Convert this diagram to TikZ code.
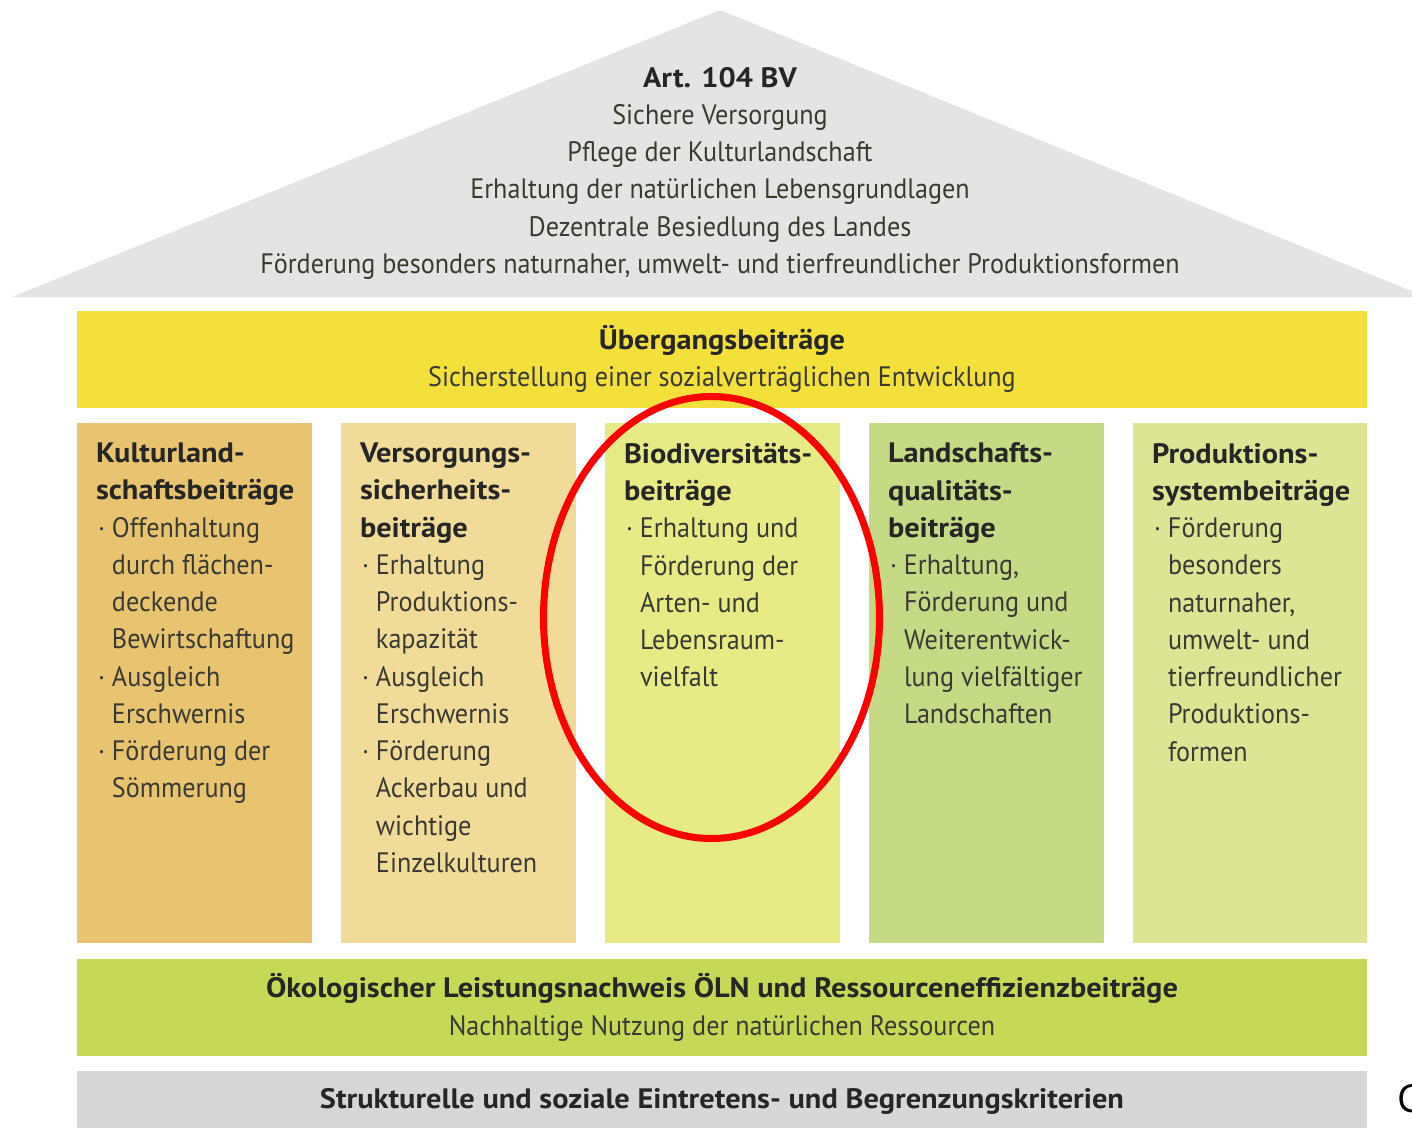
\documentclass[tikz,border=0pt]{standalone}
\usepackage{fontspec}
\setmainfont{PT Sans}[FakeStretch=0.93,BoldFeatures={FakeStretch=1.08}]
\newfontfamily\srcfont{Open Sans}
\usetikzlibrary{shapes.geometric}
\definecolor{roofgrey}{RGB}{228,228,228}
\definecolor{basegrey}{RGB}{215,215,215}
\definecolor{transyellow}{RGB}{243,224,58}
\definecolor{oelngreen}{RGB}{197,217,87}
\definecolor{pillarA}{RGB}{232,196,112}
\definecolor{pillarB}{RGB}{240,220,152}
\definecolor{pillarC}{RGB}{230,235,133}
\definecolor{pillarD}{RGB}{198,218,134}
\definecolor{pillarE}{RGB}{220,229,148}
\definecolor{bodytext}{RGB}{58,58,52}
\newcommand{\bul}{\makebox[9.1pt][l]{\hspace{1.2pt}·}}
\newcommand{\ind}{\hspace*{9.1pt}}
\newcommand{\hd}[1]{\textbf{\color{black!85}#1}}
\begin{document}
\begin{tikzpicture}[x=0.2mm,y=-0.2mm,inner sep=0pt,outer sep=0pt,
 txt/.style={font=\fontsize{16}{21.2}\selectfont,text=bodytext},
 band/.style={txt,minimum width=258mm,minimum height=19.4mm,align=center},
 coltext/.style={txt,anchor=north west,align=left,execute at begin node=\strut}]
\useasboundingbox (0,0) rectangle (1412,1127);

% roof
\fill[roofgrey] (720,10) -- (1426,297) -- (12,297) -- cycle;
\node[txt,anchor=north,align=center,execute at begin node=\strut] (art) at (720,67)
 {\hd{Art. 104 BV}\\Sichere Versorgung\\Pflege der Kulturlandschaft\\
  Erhaltung der natürlichen Lebensgrundlagen\\Dezentrale Besiedlung des Landes\\
  Förderung besonders naturnaher, umwelt- und tierfreundlicher Produktionsformen};

\node[band,fill=transyellow] (trans) at (722,359)
 {\hd{Übergangsbeiträge}\\Sicherstellung einer sozialverträglichen Entwicklung};

% pillars
\fill[pillarA] (77,423) rectangle (312,943);
\fill[pillarB] (341,423) rectangle (576,943);
\fill[pillarC] (605,423) rectangle (840,943);
\fill[pillarD] (869,423) rectangle (1104,943);
\fill[pillarE] (1133,423) rectangle (1367,943);

\node[coltext] (kultur) at (96,443)
 {\hd{Kulturland-}\\\hd{schaftsbeiträge}\\
  \bul Offenhaltung\\\ind durch flächen-\\\ind deckende\\\ind Bewirtschaftung\\
  \bul Ausgleich\\\ind Erschwernis\\\bul Förderung der\\\ind Sömmerung};
\node[coltext] (versorgung) at (360,443)
 {\hd{Versorgungs-}\\\hd{sicherheits-}\\\hd{beiträge}\\
  \bul Erhaltung\\\ind Produktions-\\\ind kapazität\\\bul Ausgleich\\\ind Erschwernis\\
  \bul Förderung\\\ind Ackerbau und\\\ind wichtige\\\ind Einzelkulturen};
\node[coltext] (biodiv) at (624,443)
 {\hd{Biodiversitäts-}\\\hd{beiträge}\\
  \bul Erhaltung und\\\ind Förderung der\\\ind Arten- und\\\ind Lebensraum-\\\ind vielfalt};
\node[coltext] (landschaft) at (888,443)
 {\hd{Landschafts-}\\\hd{qualitäts-}\\\hd{beiträge}\\
  \bul Erhaltung,\\\ind Förderung und\\\ind Weiterentwick-\\\ind lung vielfältiger\\\ind Landschaften};
\node[coltext] (produktion) at (1152,443)
 {\hd{Produktions-}\\\hd{systembeiträge}\\
  \bul Förderung\\\ind besonders\\\ind naturnaher,\\\ind umwelt- und\\\ind tierfreundlicher\\
  \ind Produktions-\\\ind formen};

\node[band,fill=oelngreen] (oeln) at (722,1007.5)
 {\hd{Ökologischer Leistungsnachweis ÖLN und Ressourceneffizienzbeiträge}\\
  Nachhaltige Nutzung der natürlichen Ressourcen};

\fill[basegrey] (77,1071) rectangle (1367,1140);
\node[txt] (krit) at (722,1101)
 {\hd{Strukturelle und soziale Eintretens- und Begrenzungskriterien}};

\node[ellipse,draw=red,line width=4pt,minimum width=67.2mm,minimum height=88.4mm] (mark) at (711.5,617.5) {};

\node[anchor=base west,font=\srcfont\fontsize{22}{22}\selectfont] (src) at (1397,1112) {C};
\end{tikzpicture}
\end{document}
